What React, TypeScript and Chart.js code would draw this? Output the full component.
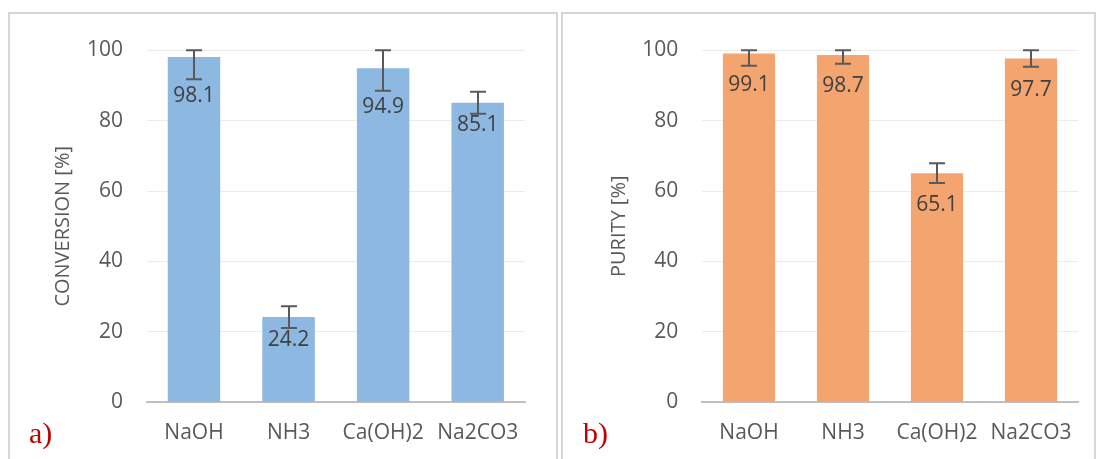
import { useEffect, useRef } from "react";
import { Chart, registerables } from "chart.js";

Chart.register(...registerables);

const categories = ["NaOH", "NH3", "Ca(OH)2", "Na2CO3"];
const conversion = [98.1, 24.2, 94.9, 85.1];
const conversionErr = [6.3, 3.1, 6.4, 3.1];
const purity = [99.1, 98.7, 65.1, 97.7];
const purityErr = [3.5, 2.5, 2.8, 2.4];
const yTicks = [0, 20, 40, 60, 80, 100];

const FONT = "'Open Sans', 'DejaVu Sans', sans-serif";
const TEXT = "#595959";
const LABEL = "#404040";

const errorBarPlugin = {
  id: "errorBars",
  afterDatasetsDraw(chart: any, _args: any, opts: any) {
    const { ctx } = chart;
    const meta = chart.getDatasetMeta(0);
    const y = chart.scales.y;
    const values = chart.data.datasets[0].data as number[];
    const errs = opts.errors as number[];
    const cap = opts.capWidth as number;
    const size = opts.labelSize as number;
    ctx.save();
    meta.data.forEach((bar: any, i: number) => {
      const v = values[i];
      const e = errs[i];
      const hi = Math.min(v + e, y.max);
      const lo = Math.max(v - e, y.min);
      const x = Math.round(bar.x);
      const yHi = y.getPixelForValue(hi);
      const yLo = y.getPixelForValue(lo);
      ctx.strokeStyle = opts.color;
      ctx.lineWidth = 2;
      ctx.beginPath();
      ctx.moveTo(x, yHi);
      ctx.lineTo(x, yLo);
      ctx.moveTo(x - cap / 2, yHi);
      ctx.lineTo(x + cap / 2, yHi);
      ctx.moveTo(x - cap / 2, yLo);
      ctx.lineTo(x + cap / 2, yLo);
      ctx.stroke();

      // value label inside bar end
      const top = bar.y;
      let center = top + opts.labelOffset;
      const labelTop = center - size * 0.357;
      if (opts.avoidCaps && yLo > labelTop + 2) {
        center = yLo + 15;
      }
      ctx.fillStyle = LABEL;
      ctx.font = `${size}px ${FONT}`;
      ctx.textAlign = "center";
      ctx.textBaseline = "alphabetic";
      ctx.fillText(v.toFixed(1), bar.x, center + size * 0.357);
    });
    ctx.restore();
  },
};

function makeConfig(
  values: number[],
  errs: number[],
  color: string,
  title: string,
  yWidth: number,
  padRight: number,
  titlePad: number,
  labelOffset: number,
  avoidCaps: boolean
): any {
  return {
    type: "bar",
    data: {
      labels: categories,
      datasets: [
        {
          data: values,
          backgroundColor: color,
          borderWidth: 0,
          barPercentage: 0.555,
          categoryPercentage: 1,
        },
      ],
    },
    options: {
      animation: false,
      responsive: false,
      maintainAspectRatio: false,
      devicePixelRatio: 1,
      layout: { padding: { left: 0, right: padRight, top: 32.5, bottom: 0 } },
      plugins: {
        legend: { display: false },
        tooltip: { enabled: false },
        errorBars: {
          errors: errs,
          color: "#595959",
          capWidth: 16,
          labelSize: 21,
          labelOffset,
          avoidCaps,
        },
      },
      scales: {
        x: {
          grid: { display: false, drawTicks: false },
          border: { display: true, color: "#bfbfbf", width: 2 },
          ticks: { color: TEXT, font: { family: FONT, size: 21 }, padding: 18 },
          afterFit: (s: any) => {
            s.height = 56.7;
          },
        },
        y: {
          min: 0,
          max: 100,
          afterBuildTicks: (s: any) => {
            s.ticks = yTicks.map((v) => ({ value: v }));
          },
          ticks: { color: TEXT, font: { family: FONT, size: 21 }, padding: 23.7 },
          grid: { color: "#ebebeb", lineWidth: 1, drawTicks: false },
          border: { display: false },
          title: {
            display: true,
            text: title,
            color: TEXT,
            font: { family: FONT, size: 20 },
            padding: { top: titlePad, bottom: 0 },
          },
          afterFit: (s: any) => {
            s.width = yWidth;
          },
        },
      },
    },
    plugins: [errorBarPlugin],
  };
}

function ChartCanvas(props: { config: any; left: number; top: number; width: number; height: number }) {
  const ref = useRef<HTMLCanvasElement | null>(null);
  useEffect(() => {
    if (!ref.current) return;
    const chart = new Chart(ref.current, props.config);
    return () => chart.destroy();
  }, []);
  return (
    <canvas
      ref={ref}
      width={props.width}
      height={props.height}
      style={{
        position: "absolute",
        left: props.left,
        top: props.top,
        width: props.width,
        height: props.height,
      }}
    />
  );
}

export default function App() {
  const leftCfg = makeConfig(conversion, conversionErr, "#8cb8e1", "CONVERSION [%]", 136.7, 31, 41.7, 21, true);
  const rightCfg = makeConfig(purity, purityErr, "#f3a46f", "PURITY [%]", 139, 16, 44, 30, false);
  const panel = (left: number, width: number): any => ({
    position: "absolute",
    left,
    top: 12,
    width,
    height: 470,
    border: "2px solid #d6d6d6",
    boxSizing: "border-box",
  });
  const tag = (left: number): any => ({
    position: "absolute",
    left,
    top: 418,
    fontFamily: "'Liberation Serif', 'Times New Roman', serif",
    fontSize: 30,
    lineHeight: "30px",
    color: "#c00000",
  });
  return (
    <div
      style={{
        position: "absolute",
        left: 0,
        top: 0,
        width: 1102,
        height: 459,
        overflow: "hidden",
        background: "#ffffff",
      }}
    >
      <div style={panel(8, 550)} />
      <div style={panel(561, 535)} />
      <ChartCanvas config={leftCfg} left={10} top={14} width={546} height={445} />
      <ChartCanvas config={rightCfg} left={563} top={14} width={531} height={445} />
      <div style={tag(29)}>a)</div>
      <div style={tag(583)}>b)</div>
    </div>
  );
}
